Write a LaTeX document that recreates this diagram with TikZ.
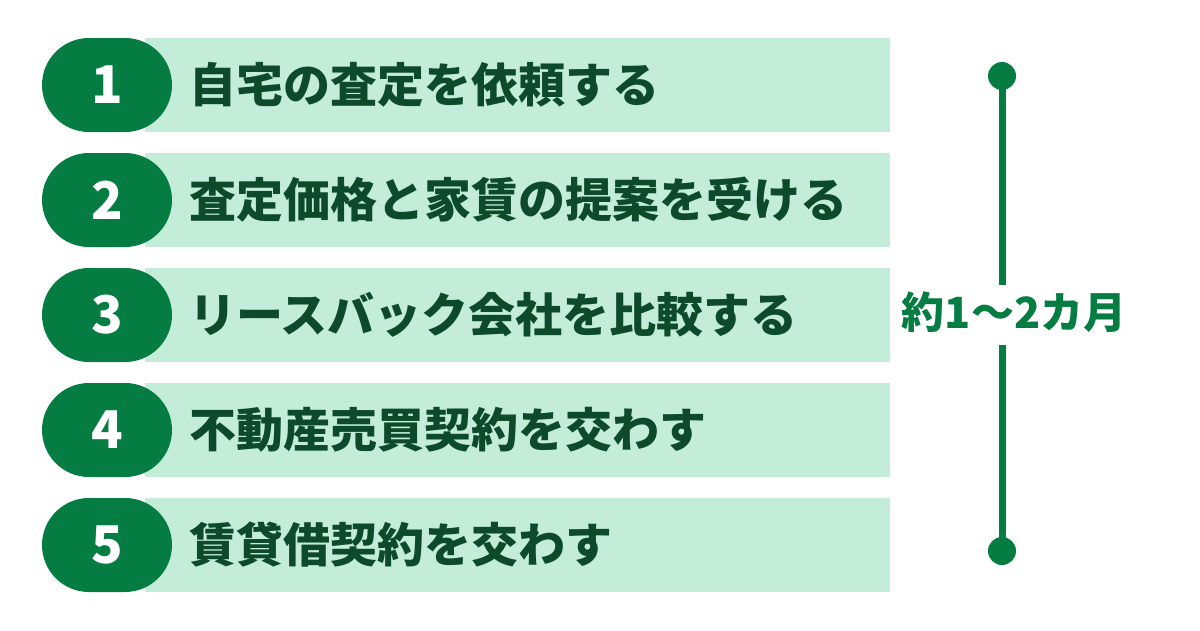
\documentclass[tikz,border=0pt]{standalone}
\usepackage{fontspec}
\setmainfont{Noto Sans CJK JP}[BoldFont={Noto Sans CJK JP Black}]
\definecolor{dkgreen}{HTML}{057D42}
\definecolor{ltgreen}{HTML}{C3EDD9}
\definecolor{txgreen}{HTML}{0D4A2B}
\tikzset{
  bar/.style={fill=ltgreen, draw=none, minimum width=745pt, minimum height=94pt, inner sep=0pt, anchor=west},
  pill/.style={fill=dkgreen, draw=none, rounded corners=47pt, minimum width=130pt, minimum height=94pt, inner sep=0pt, text=white, font=\fontsize{52}{52}\selectfont\bfseries},
  steptext/.style={anchor=west, inner sep=0pt, text=txgreen, font=\fontsize{47}{47}\selectfont\bfseries},
  dot/.style={circle, fill=dkgreen, draw=none, minimum size=28pt, inner sep=0pt},
  spanline/.style={draw=dkgreen, line width=7pt},
  spanlabel/.style={text=dkgreen, inner sep=0pt, font=\fontsize{43}{43}\selectfont\bfseries}
}
\begin{document}
\begin{tikzpicture}[x=1pt,y=-1pt]
\useasboundingbox (0,0) rectangle (1200,630);
\foreach \i/\t in {1/自宅の査定を依頼する,2/査定価格と家賃の提案を受ける,3/リースバック会社を比較する,4/不動産売買契約を交わす,5/賃貸借契約を交わす}{
  \pgfmathsetmacro{\yy}{85+(\i-1)*115}
  \node[bar] (b\i) at (145,\yy) {};
  \node[pill] (n\i) at (107,\yy) {\i};
  \node[steptext] (t\i) at (189,\yy) {\t};
}
\node[dot] (dtop) at (1002,76) {};
\node[dot] (dbot) at (1002,551) {};
\node[spanlabel] (lab) at (1014,312) {約1〜2カ月};
\draw[spanline] (dtop.center) -- (1002,285) coordinate (ltop);
\draw[spanline] (1002,345) coordinate (lbot) -- (dbot.center);
\end{tikzpicture}
\end{document}
